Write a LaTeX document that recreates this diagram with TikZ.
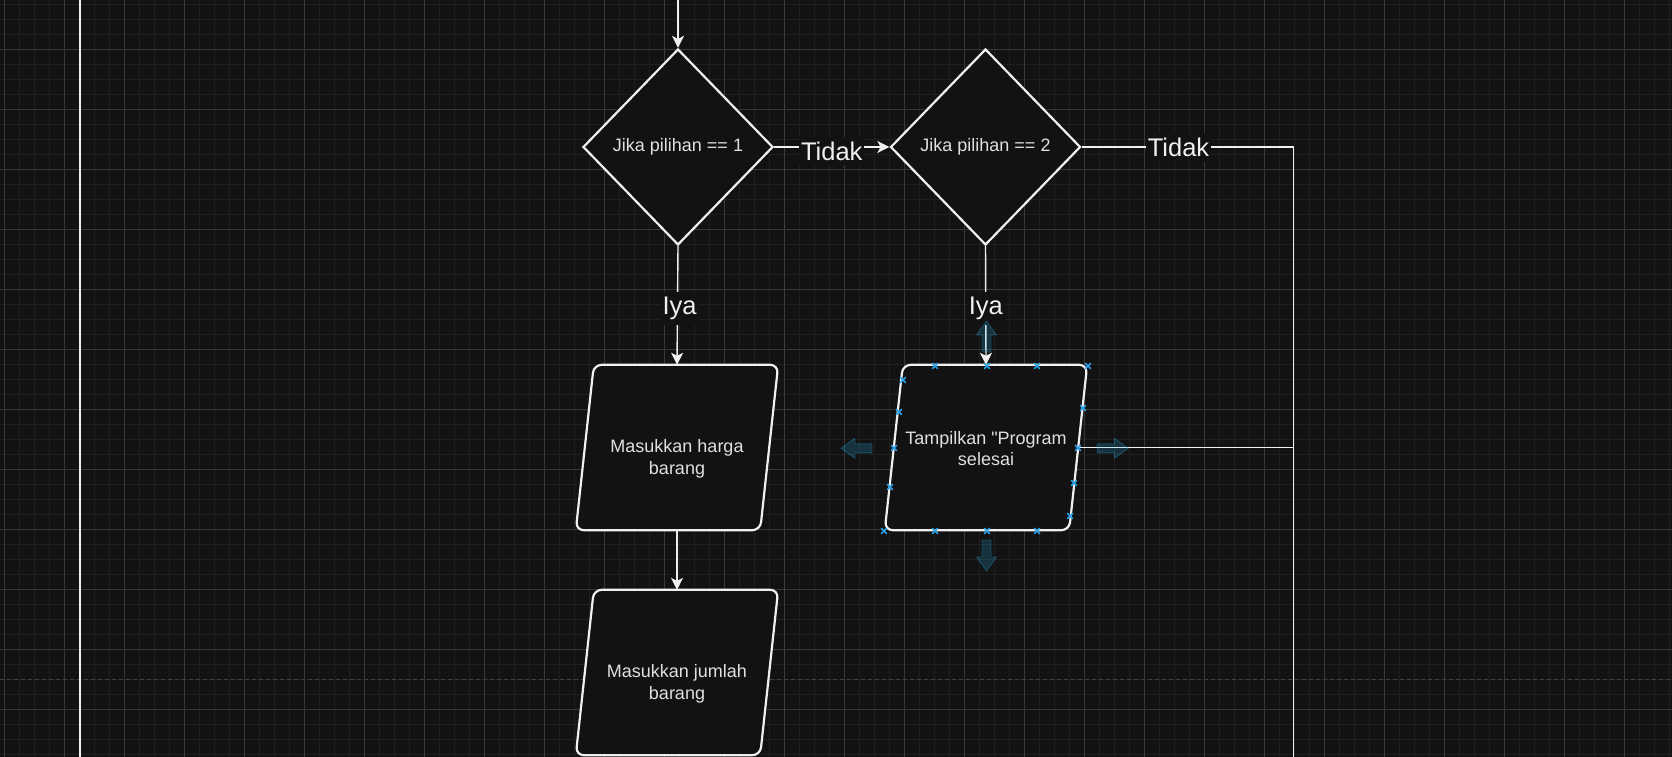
\documentclass[tikz,border=0pt]{standalone}
\usepackage{fontspec}
\setmainfont{Liberation Sans}
\newfontfamily\plainsans{Liberation Sans}
\usetikzlibrary{shapes.geometric,arrows.meta}
\definecolor{bg}{RGB}{18,18,18}
\definecolor{gridminor}{RGB}{31,31,31}
\definecolor{gridmajor}{RGB}{56,56,56}
\definecolor{pagebreak}{RGB}{64,64,64}
\definecolor{fg}{RGB}{240,240,240}
\definecolor{txt}{RGB}{224,224,224}
\definecolor{hoverblue}{RGB}{41,182,242}
\definecolor{handle}{RGB}{41,160,230}
\begin{document}
\begin{tikzpicture}[x=1pt,y=-1pt,
  decision/.style={diamond, draw=fg, line width=2.2pt, fill=bg, minimum width=190pt, minimum height=196pt, inner sep=0pt, text=txt, font=\plainsans\fontsize{18}{21.6}\selectfont},
  iobox/.style={minimum width=202pt, minimum height=165pt, inner sep=0pt},
  ioshape/.style={draw=fg, line width=2.2pt, fill=bg, rounded corners=8pt},
  iotext/.style={text=txt, align=center, inner sep=0pt, font=\plainsans\fontsize{18}{21.6}\selectfont},
  flow/.style={draw=fg, line width=1.4pt},
  arrowflow/.style={flow, -{Stealth[length=12pt,width=12pt,inset=3pt]}},
  edgelabel/.style={fill=bg, text=fg, inner xsep=2pt, inner ysep=5pt, anchor=base, yshift=-9.5pt, font=\plainsans\fontsize{25.5}{30}\selectfont},
  hover/.style={fill=hoverblue, fill opacity=0.2, draw=hoverblue, draw opacity=0.28, line width=0.9pt},
  hoverarrow/.pic={\path[hover] (0,0) -- (10,14) -- (4.5,14) -- (4.5,31) -- (-4.5,31) -- (-4.5,14) -- (-10,14) -- cycle;},
  handlemark/.pic={\draw[handle, line width=1.5pt] (-2.8,-2.8) -- (2.8,2.8) (-2.8,2.8) -- (2.8,-2.8);}
]
\useasboundingbox (0,0) rectangle (1672,757);
\fill[bg] (0,0) rectangle (1672,757);
% grid
\foreach \i in {0,...,111} \draw[gridminor, line width=1pt] ({4.3+15*\i},0) -- ({4.3+15*\i},757);
\foreach \j in {0,...,50} \draw[gridminor, line width=1pt] (0,{4.3+15*\j}) -- (1672,{4.3+15*\j});
\foreach \i in {0,...,27} \draw[gridmajor, line width=1pt] ({4.3+60*\i},0) -- ({4.3+60*\i},757);
\foreach \j in {0,...,11} \draw[gridmajor, line width=1pt] (0,{49.3+60*\j}) -- (1672,{49.3+60*\j});
% page breaks
\draw[pagebreak, line width=1pt, dash pattern=on 4pt off 3pt] (784.3,0) -- (784.3,757);
\draw[pagebreak, line width=1pt, dash pattern=on 4pt off 3pt] (0,679.8) -- (1672,679.8);

% left white line
\coordinate (lt) at (80,0);
\coordinate (lb) at (80,757);
\draw[flow] (lt) -- (lb);

% nodes
\node[decision] (d1) at (678,147) {Jika pilihan == 1};
\node[decision] (d2) at (985.5,147) {Jika pilihan == 2};
\node[iobox] (p1) at (677,447.5) {};
\node[iobox] (p2) at (986,447.5) {};
\node[iobox] (p3) at (677,672.5) {};
\foreach \p in {p1,p2,p3}
  \draw[ioshape] (\p.north) -- (\p.north east) -- ([xshift=-18pt]\p.south east) -- (\p.south west) -- ([xshift=18pt]\p.north west) -- cycle;
\node[iotext] (t1) at ([yshift=-11.5pt]p1.center) {Masukkan harga\\barang};
\node[iotext] (t2) at ([yshift=-1pt]p2.center) {Tampilkan "Program\\selesai};
\node[iotext] (t3) at ([yshift=-11.5pt]p3.center) {Masukkan jumlah\\barang};

% connectors
\coordinate (topin) at (678,0);
\coordinate (jn) at (1293.7,147);
\coordinate (jb) at (1293.7,757);
\draw[arrowflow] (topin) -- (d1.north);
\draw[arrowflow] (d1.east) -- node[edgelabel, yshift=-3.5pt] {Tidak} (d2.west);
\draw[flow] (d2.east) -- node[edgelabel, pos=0.457] {Tidak} (jn) -- (jb);
\draw[flow] ([xshift=-9pt]p2.east) -- (p2.east -| jn);
\draw[arrowflow] (d1.south) -- node[edgelabel, xshift=2pt] {Iya} (p1.north);
\draw[arrowflow] (d2.south) -- node[edgelabel] {Iya} (p2.north);
\draw[arrowflow] (p1.south) -- (p3.north);

% hover arrows around selected shape
\pic at (986.5,321) {hoverarrow};
\pic[rotate=180] at (986.5,571) {hoverarrow};
\pic[rotate=90] at (841,448.3) {hoverarrow};
\pic[rotate=-90] at (1128.3,448.3) {hoverarrow};

% selection handles
\foreach \hx/\hy in {935/366, 987/366, 1037/366, 1088/366,
  903/380, 899/412, 894/448, 890/487, 884/531,
  1083/408, 1078/448, 1074/483, 1070/516,
  935/531, 987/531, 1037/531}
  \pic at (\hx,\hy) {handlemark};
\end{tikzpicture}
\end{document}
